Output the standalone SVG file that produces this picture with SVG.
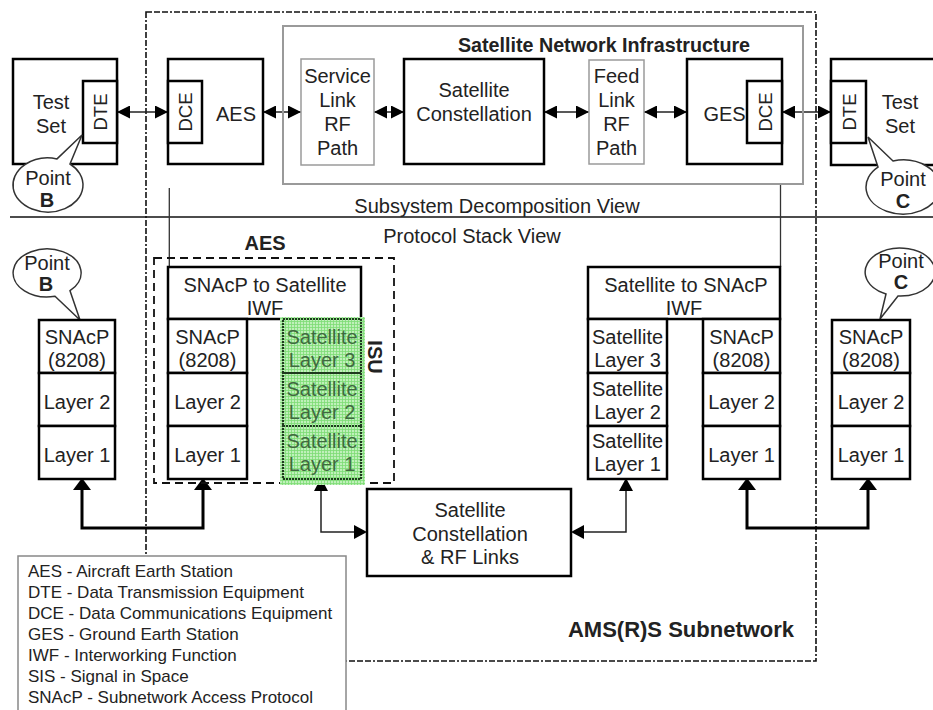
<svg xmlns="http://www.w3.org/2000/svg" width="933" height="710" viewBox="0 0 933 710">
  <defs>
    <style>
      .box { fill: #fff; stroke: #000; stroke-width: 2.5; }
      .gbox { fill: #fff; stroke: #9a9a9a; stroke-width: 1.5; }
      .frame { fill: none; stroke: #9a9a9a; stroke-width: 2; }
      .grn { fill: none; stroke: #1e3a1e; stroke-width: 2.2; stroke-dasharray: 2 1; }
      .call { fill: #fff; stroke: #333; stroke-width: 1.5; }
      .t { font-family: "Liberation Sans", Arial, sans-serif; font-size: 20px; fill: #222; text-anchor: middle; }
      .b { font-weight: bold; }
      .gt { fill: #3f6a3f; }
      .leg { font-family: "Liberation Sans", Arial, sans-serif; font-size: 17px; fill: #222; }
      .thin { fill: none; stroke: #222; stroke-width: 1.5; }
      .thick { fill: none; stroke: #000; stroke-width: 3; }
      .hair { fill: none; stroke: #333; stroke-width: 1.3; }
      .dashdot { fill: none; stroke: #111; stroke-width: 1.6; stroke-dasharray: 6 2 6 2 6 2 2 2; }
      .dash { fill: none; stroke: #111; stroke-width: 1.8; stroke-dasharray: 8 5; }
    </style>
    <pattern id="grid" width="3" height="3" patternUnits="userSpaceOnUse">
      <rect width="3" height="3" fill="#bff0ba"/>
      <path d="M0,0.5 H3 M0.5,0 V3" stroke="#7cdc74" stroke-width="0.8"/>
    </pattern>
    <marker id="ah" viewBox="0 0 13 13" refX="13" refY="6.5" markerWidth="13" markerHeight="13" markerUnits="userSpaceOnUse" orient="auto-start-reverse">
      <path d="M0,0 L13,6.5 L0,13 z" fill="#000"/>
    </marker>
    <marker id="ahT" viewBox="0 0 12 18" refX="9" refY="9" markerWidth="12" markerHeight="18" markerUnits="userSpaceOnUse" orient="auto-start-reverse">
      <path d="M0,0 L12,9 L0,18 z" fill="#000"/>
    </marker>
    <marker id="ahS" viewBox="0 0 13 14" refX="11" refY="7" markerWidth="13" markerHeight="14" markerUnits="userSpaceOnUse" orient="auto-start-reverse">
      <path d="M0,0 L13,7 L0,14 z" fill="#000"/>
    </marker>
  </defs>

  <rect width="933" height="710" fill="#fff"/>

  <!-- AMS(R)S subnetwork boundary -->
  <g id="subnetwork">
    <rect x="146" y="12" width="670" height="649" class="dashdot"/>
    <text x="681" y="637" class="t b" style="font-size:22px">AMS(R)S Subnetwork</text>
  </g>

  <!-- view separator -->
  <g id="views">
    <line x1="10" y1="217" x2="933" y2="217" stroke="#111" stroke-width="1.5"/>
    <text x="497" y="213" class="t">Subsystem Decomposition View</text>
    <text x="472" y="243" class="t">Protocol Stack View</text>
  </g>

  <!-- connectors -->
  <g id="connectors">
    <path d="M117,112 H168" class="thin" marker-start="url(#ah)" marker-end="url(#ah)"/>
    <path d="M263,112 H301" class="thin" marker-start="url(#ah)" marker-end="url(#ah)"/>
    <path d="M374,112 H404" class="thin" marker-start="url(#ah)" marker-end="url(#ah)"/>
    <path d="M544,112 H589" class="thin" marker-start="url(#ah)" marker-end="url(#ah)"/>
    <path d="M644,112 H687" class="thin" marker-start="url(#ah)" marker-end="url(#ah)"/>
    <path d="M782,112 H831" class="thin" marker-start="url(#ah)" marker-end="url(#ah)"/>
    <path d="M169.3,188 V267" class="hair"/>
    <path d="M780.5,184 V267" class="hair"/>
    <path d="M82,481 V528 H203 V481" class="thick" marker-start="url(#ahT)" marker-end="url(#ahT)"/>
    <path d="M747,481 V528 H868 V481" class="thick" marker-start="url(#ahT)" marker-end="url(#ahT)"/>
    <path d="M321,480 V532 H365" class="thin" marker-start="url(#ahS)" marker-end="url(#ahS)"/>
    <path d="M573,532 H626 V480" class="thin" marker-start="url(#ahS)" marker-end="url(#ahS)"/>
  </g>

  <!-- subsystem decomposition row -->
  <g id="test-set-b">
    <rect x="13" y="59" width="104" height="105" class="box"/>
    <rect x="83" y="81" width="34" height="62" class="box"/>
    <text x="51" y="109" class="t">Test</text>
    <text x="51" y="133" class="t">Set</text>
    <text transform="translate(107,112) rotate(-90)" class="t" style="font-size:18.5px">DTE</text>
  </g>
  <g id="point-b-top">
    <path d="M57,158.9 L82,135 L70,164 A35,27 0 1 1 57,158.9 Z" class="call"/>
    <text x="48" y="185" class="t">Point</text>
    <text x="47" y="207" class="t b">B</text>
  </g>

  <g id="aes">
    <rect x="168" y="59" width="95" height="105" class="box"/>
    <rect x="168" y="81" width="34" height="62" class="box"/>
    <text x="236" y="121" class="t">AES</text>
    <text transform="translate(192,112) rotate(-90)" class="t" style="font-size:18.5px">DCE</text>
  </g>

  <g id="satellite-network-infrastructure">
    <rect x="283" y="26" width="520" height="158" class="frame"/>
    <text x="604" y="52" class="t b" style="font-size:19.7px">Satellite Network Infrastructure</text>
  </g>

  <g id="service-link">
    <rect x="301" y="59" width="73" height="106" class="gbox"/>
    <text x="337.5" y="83" class="t">Service</text>
    <text x="337.5" y="107" class="t">Link</text>
    <text x="337.5" y="131" class="t">RF</text>
    <text x="337.5" y="155" class="t">Path</text>
  </g>

  <g id="satellite-constellation">
    <rect x="404" y="59" width="140" height="105" class="box"/>
    <text x="474" y="97" class="t">Satellite</text>
    <text x="474" y="121" class="t">Constellation</text>
  </g>

  <g id="feed-link">
    <rect x="589" y="60" width="55" height="104" class="gbox"/>
    <text x="616.5" y="83" class="t">Feed</text>
    <text x="616.5" y="107" class="t">Link</text>
    <text x="616.5" y="131" class="t">RF</text>
    <text x="616.5" y="155" class="t">Path</text>
  </g>

  <g id="ges">
    <rect x="687" y="59" width="95" height="105" class="box"/>
    <rect x="747" y="81" width="35" height="62" class="box"/>
    <text x="724.5" y="121" class="t">GES</text>
    <text transform="translate(771.5,112) rotate(-90)" class="t" style="font-size:18.5px">DCE</text>
  </g>

  <g id="test-set-c">
    <rect x="831" y="59" width="120" height="106" class="box"/>
    <rect x="831" y="81" width="35" height="62" class="box"/>
    <text x="900" y="109" class="t">Test</text>
    <text x="900" y="133" class="t">Set</text>
    <text transform="translate(855.5,112) rotate(-90)" class="t" style="font-size:18.5px">DTE</text>
  </g>
  <g id="point-c-top">
    <path d="M878,167.1 L868,137 L893,161 A37,27 0 1 1 878,167.1 Z" class="call"/>
    <text x="903" y="186" class="t">Point</text>
    <text x="903" y="208" class="t b">C</text>
  </g>

  <!-- protocol stack row -->
  <g id="point-b-stack">
    <path d="M55,296.3 L80,320 L70,290.7 A34,24 0 1 0 55,296.3 Z" class="call"/>
    <text x="47" y="270" class="t">Point</text>
    <text x="46" y="291" class="t b">B</text>
  </g>
  <g id="stack-b">
    <rect x="39" y="320" width="76" height="53" class="box"/>
    <rect x="39" y="373" width="76" height="53" class="box"/>
    <rect x="39" y="426" width="76" height="53" class="box"/>
    <text x="77" y="344" class="t">SNAcP</text>
    <text x="77" y="367" class="t">(8208)</text>
    <text x="77" y="409" class="t">Layer 2</text>
    <text x="77" y="462" class="t">Layer 1</text>
  </g>

  <g id="aes-stack">
    <rect x="154" y="258" width="240" height="225" class="dash"/>
    <text x="265" y="250" class="t b">AES</text>
    <rect x="168" y="267" width="193" height="52" class="box"/>
    <text x="265" y="292" class="t">SNAcP  to Satellite</text>
    <text x="265" y="315" class="t">IWF</text>
    <rect x="168" y="319" width="79" height="54" class="box"/>
    <rect x="168" y="373" width="79" height="53" class="box"/>
    <rect x="168" y="426" width="79" height="53" class="box"/>
    <text x="207.5" y="344" class="t">SNAcP</text>
    <text x="207.5" y="367" class="t">(8208)</text>
    <text x="207.5" y="409" class="t">Layer 2</text>
    <text x="207.5" y="462" class="t">Layer 1</text>
  </g>

  <g id="isu">
    <rect x="280" y="317" width="85" height="168" fill="url(#grid)"/>
    <rect x="283" y="319" width="78" height="54" class="grn"/>
    <rect x="283" y="373" width="78" height="53" class="grn"/>
    <rect x="283" y="426" width="78" height="53" class="grn"/>
    <text x="322" y="344" class="t gt">Satellite</text>
    <text x="322" y="367" class="t gt">Layer 3</text>
    <text x="322" y="396" class="t gt">Satellite</text>
    <text x="322" y="419" class="t gt">Layer 2</text>
    <text x="322" y="448" class="t gt">Satellite</text>
    <text x="322" y="471" class="t gt">Layer 1</text>
    <text transform="translate(368,357) rotate(90)" class="t b">ISU</text>
  </g>

  <g id="constellation-rf-links">
    <rect x="367" y="489" width="204" height="87" class="box"/>
    <text x="470" y="517" class="t">Satellite</text>
    <text x="470" y="541" class="t">Constellation</text>
    <text x="470" y="564" class="t">&amp; RF Links</text>
  </g>

  <g id="ges-stack">
    <rect x="588" y="267" width="192" height="52" class="box"/>
    <text x="686" y="292" class="t">Satellite to SNAcP</text>
    <text x="684" y="315" class="t">IWF</text>
    <rect x="588" y="319" width="79" height="54" class="box"/>
    <rect x="588" y="373" width="79" height="53" class="box"/>
    <rect x="588" y="426" width="79" height="53" class="box"/>
    <text x="627.5" y="344" class="t">Satellite</text>
    <text x="627.5" y="367" class="t">Layer 3</text>
    <text x="627.5" y="396" class="t">Satellite</text>
    <text x="627.5" y="419" class="t">Layer 2</text>
    <text x="627.5" y="448" class="t">Satellite</text>
    <text x="627.5" y="471" class="t">Layer 1</text>
    <rect x="703" y="319" width="77" height="54" class="box"/>
    <rect x="703" y="373" width="77" height="53" class="box"/>
    <rect x="703" y="426" width="77" height="53" class="box"/>
    <text x="741.5" y="344" class="t">SNAcP</text>
    <text x="741.5" y="367" class="t">(8208)</text>
    <text x="741.5" y="409" class="t">Layer 2</text>
    <text x="741.5" y="462" class="t">Layer 1</text>
  </g>

  <g id="point-c-stack">
    <path d="M886,294 L880,319 L898,296 A35,24 0 1 0 886,294 Z" class="call"/>
    <text x="901" y="268" class="t">Point</text>
    <text x="901" y="289" class="t b">C</text>
  </g>
  <g id="stack-c">
    <rect x="832" y="320" width="78" height="53" class="box"/>
    <rect x="832" y="373" width="78" height="53" class="box"/>
    <rect x="832" y="426" width="78" height="53" class="box"/>
    <text x="871" y="344" class="t">SNAcP</text>
    <text x="871" y="367" class="t">(8208)</text>
    <text x="871" y="409" class="t">Layer 2</text>
    <text x="871" y="462" class="t">Layer 1</text>
  </g>

  <!-- abbreviations -->
  <g id="legend">
    <rect x="18" y="556" width="328" height="170" fill="#fff" stroke="#888" stroke-width="1.5"/>
    <text x="28" y="577" class="leg">AES - Aircraft Earth Station</text>
    <text x="28" y="598" class="leg">DTE - Data Transmission Equipment</text>
    <text x="28" y="619" class="leg">DCE - Data Communications Equipment</text>
    <text x="28" y="640" class="leg">GES - Ground Earth Station</text>
    <text x="28" y="661" class="leg">IWF - Interworking Function</text>
    <text x="28" y="682" class="leg">SIS - Signal in Space</text>
    <text x="28" y="703" class="leg">SNAcP - Subnetwork Access Protocol</text>
  </g>
</svg>
